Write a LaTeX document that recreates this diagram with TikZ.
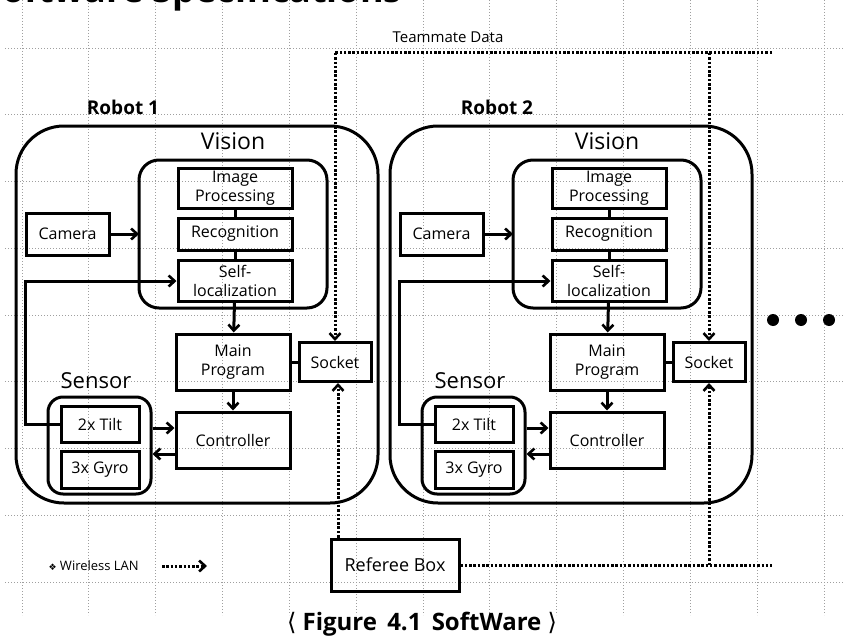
\documentclass[tikz,border=0pt]{standalone}
\usepackage{fontspec}
\setmainfont{Open Sans}
\newfontfamily\symfont{DejaVu Sans}
\usetikzlibrary{arrows.meta}
\begin{document}
\begin{tikzpicture}[x=1pt,y=-1pt,
  bx/.style={draw,line width=3pt,inner sep=0pt,font=\fontsize{16}{18.5}\selectfont,align=center},
  rbox/.style={draw,line width=3pt,rounded corners=#1},
  ln/.style={line width=3pt},
  arr/.style={line width=3pt,-{Straight Barb[length=6pt,width=11pt,line width=2.6pt]}},
  dotln/.style={line width=3pt,dash pattern=on 2.5pt off 1.8pt},
  dotarr/.style={dotln,-{Straight Barb[length=6pt,width=11pt,line width=2.6pt]}},
  grid/.style={gray!75,line width=0.8pt,dash pattern=on 1pt off 2pt}]
\useasboundingbox (0,0) rectangle (843,642);
\begin{scope}
\clip (0,0) rectangle (843,642);
\foreach \k in {0,...,12} \draw[grid] (22+66.83*\k,0) -- (22+66.83*\k,615);
\foreach \k in {0,...,8} \draw[grid] (5,48+66.75*\k) -- (843,48+66.75*\k);
\node[anchor=base east,font=\fontsize{36}{38}\selectfont\bfseries,inner sep=0pt] (title) at (402,3) {Software Specifications};
\end{scope}
\node[font=\fontsize{15}{17}\selectfont] (tm) at (448,37) {Teammate Data};
\foreach \r/\dx in {1/0,2/374}{
\begin{scope}[xshift=\dx]
\draw[rbox=48pt] (16,126) rectangle (378,503);
\node[font=\fontsize{19}{21}\selectfont\bfseries] (rob\r) at (123,107) {Robot \r};
\node[font=\fontsize{23}{25}\selectfont] (vis\r) at (233,141) {Vision};
\draw[rbox=20pt] (139,160) rectangle (327,308);
\node[bx,minimum width=114pt,minimum height=40pt] (img\r) at (235,188) {Image\\Processing};
\node[bx,minimum width=114pt,minimum height=32pt] (rec\r) at (235,234) {Recognition};
\node[bx,minimum width=114pt,minimum height=41pt] (self\r) at (235,281) {Self-\\localization};
\draw[ln] (img\r) -- (rec\r); \draw[ln] (rec\r) -- (self\r);
\node[bx,minimum width=83pt,minimum height=42pt] (cam\r) at (67.5,234) {Camera};
\coordinate (vl\r) at (139,234);
\draw[arr] (cam\r) -- (vl\r);
\node[bx,minimum width=114pt,minimum height=56pt] (main\r) at (233,362) {Main\\Program};
\node[bx,minimum width=72pt,minimum height=39pt] (sock\r) at (335,362) {Socket};
\draw[ln] (main\r) -- (sock\r);
\draw[arr] (self\r) -- (main\r);
\node[font=\fontsize{22}{24}\selectfont] (sen\r) at (96,381) {Sensor};
\node[draw,line width=3pt,rounded corners=15pt,minimum width=103pt,minimum height=97pt] (sens\r) at (99.5,445.5) {};
\node[bx,minimum width=78pt,minimum height=36pt] (tilt\r) at (100,424) {2x Tilt};
\node[bx,minimum width=78pt,minimum height=37pt] (gyro\r) at (100,469.5) {3x Gyro};
\node[bx,minimum width=114pt,minimum height=56pt] (ctrl\r) at (233,440) {Controller};
\draw[arr] (main\r) -- (ctrl\r);
\draw[arr] (sens\r.east |- 0,428) -- (ctrl\r.west |- 0,428);
\draw[arr] (ctrl\r.west |- 0,454) -- (sens\r.east |- 0,454);
\draw[arr] (tilt\r.west) -- ++(-34,0) |- (self\r.west);
\end{scope}}
\coordinate (tL) at (335,53);
\coordinate (tR) at (772,53);
\draw[dotln] (tR) -- (tL);
\draw[dotarr] (tL) -- (sock1.north);
\draw[dotarr] (sock2.north |- tR) -- (sock2.north);
\node[bx,font=\fontsize{18}{20}\selectfont,minimum width=128pt,minimum height=52pt] (ref) at (395,565) {Referee Box};
\coordinate (rR) at (772,565);
\draw[dotln] (ref.east) -- (rR);
\draw[dotarr] (ref.north -| 338,0) -- (sock1.south -| 338,0);
\draw[dotarr] (sock2.south |- ref.east) -- (sock2.south);
\foreach \i/\x in {1/773,2/801,3/829} \fill (\x,320) circle (6pt) coordinate (dot\i);
\node[anchor=west,font=\fontsize{13}{15}\selectfont] (leg) at (45,566) {{\symfont\fontsize{9}{10}\selectfont ❖} Wireless LAN};
\coordinate (lA) at (162,566); \coordinate (lB) at (207,566);
\draw[dotarr] (lA) -- (lB);
\node[font=\fontsize{24}{26}\selectfont\bfseries] (cap) at (422,624) {{\symfont\mdseries ⟨} Figure\, 4.1\, SoftWare {\symfont\mdseries ⟩}};
\end{tikzpicture}
\end{document}
